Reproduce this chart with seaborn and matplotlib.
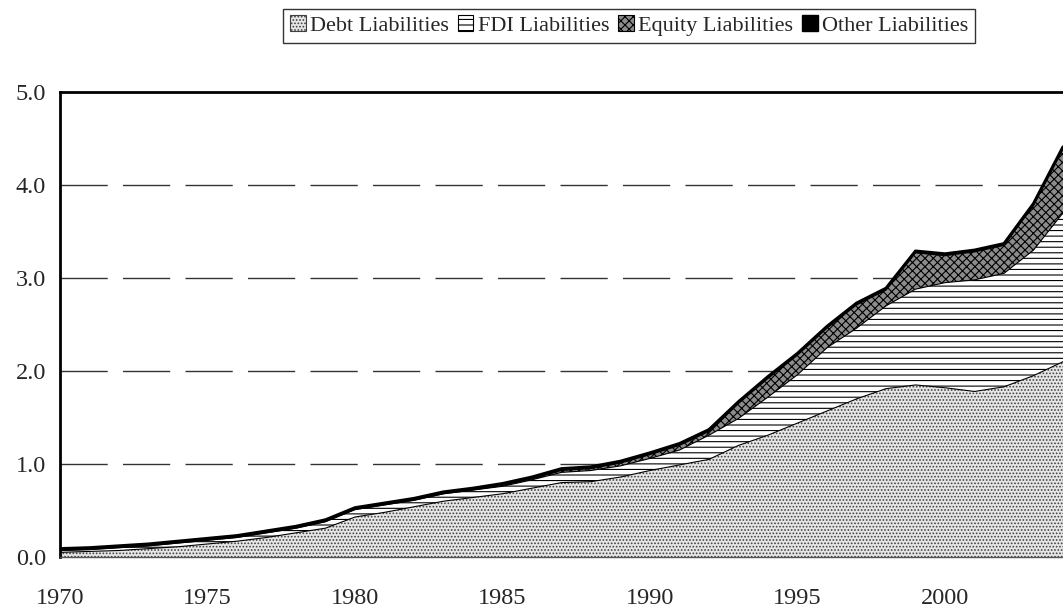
import numpy as np
import pandas as pd
import matplotlib
matplotlib.use("Agg")
import matplotlib.pyplot as plt
import seaborn as sns
from matplotlib.patches import Patch

years = list(range(1970, 2005))
debt = [0.05, 0.06, 0.07, 0.09, 0.11, 0.14, 0.17, 0.21, 0.26, 0.31,
        0.43, 0.48, 0.54, 0.60, 0.64, 0.68, 0.74, 0.80, 0.81, 0.86,
        0.93, 0.99, 1.05, 1.20, 1.31, 1.44, 1.57, 1.70, 1.81, 1.85,
        1.82, 1.78, 1.83, 1.95, 2.10]
fdi = [0.02, 0.02, 0.03, 0.03, 0.04, 0.04, 0.04, 0.05, 0.05, 0.07,
       0.08, 0.08, 0.07, 0.08, 0.08, 0.08, 0.09, 0.11, 0.12, 0.12,
       0.13, 0.16, 0.26, 0.29, 0.41, 0.52, 0.68, 0.76, 0.89, 1.03,
       1.13, 1.20, 1.22, 1.35, 1.60]
equity = [0.00, 0.00, 0.00, 0.00, 0.00, 0.00, 0.00, 0.00, 0.00, 0.00,
          0.00, 0.00, 0.00, 0.00, 0.00, 0.01, 0.01, 0.02, 0.02, 0.03,
          0.04, 0.05, 0.04, 0.16, 0.20, 0.21, 0.21, 0.25, 0.17, 0.39,
          0.29, 0.30, 0.30, 0.48, 0.69]
other = [0.02] * len(years)
labels = ["Debt Liabilities", "FDI Liabilities", "Equity Liabilities", "Other Liabilities"]

df = pd.DataFrame({"year": years, "debt": debt, "fdi": fdi, "equity": equity, "other": other})
df["total"] = df[["debt", "fdi", "equity", "other"]].sum(axis=1)

sns.set_style("white")
plt.rcParams["font.family"] = ["Liberation Serif", "DejaVu Serif"]
plt.rcParams["hatch.linewidth"] = 0.8

fig = plt.figure(figsize=(10.63, 6.11), dpi=100)
ax = fig.add_axes([60 / 1063, 1 - 557 / 611, 1 - 60 / 1063, (557 - 92) / 611])

# dashed grid lines first so areas cover them
for v in [1, 2, 3, 4]:
    ax.axhline(v, color="#333333", lw=1, dashes=(34, 11), zorder=0)

fills = [("#e6e6e6", "#404040", "....."), ("white", "black", "---"),
         ("#8c8c8c", "black", "xxxx"), ("black", "black", "")]
polys = ax.stackplot(df["year"], df["debt"], df["fdi"], df["equity"], df["other"],
                     linewidth=0, zorder=1)
for p, (fc, ec, h) in zip(polys, fills):
    p.set_facecolor(fc)
    p.set_edgecolor(ec)
    p.set_hatch(h)

# boundary lines
cum = df[["debt", "fdi", "equity"]].cumsum(axis=1)
for col in ["debt", "fdi", "equity"]:
    sns.lineplot(x=df["year"], y=cum[col], color="black", lw=0.8, ax=ax, zorder=2)
sns.lineplot(x=df["year"], y=df["total"], color="black", lw=2.2, ax=ax, zorder=3)

ax.set_xlim(1970, 1970 + (1063 - 60) / 29.75)
ax.set_ylim(0, 5)
ax.set_yticks([0, 1, 2, 3, 4, 5])
ax.set_yticklabels([f"{v:.1f}" for v in [0, 1, 2, 3, 4, 5]], fontsize=17.5)
ax.set_xticks(years)
ax.set_xticklabels([str(y) if y % 5 == 0 else "" for y in years], fontsize=17.5)
ax.tick_params(axis="x", direction="out", length=8, width=1, color="#333333", pad=14)
ax.tick_params(axis="y", direction="out", length=6, width=1, color="#333333", pad=4)
ax.set_xlabel("")
ax.set_ylabel("")

for s in ["left", "top"]:
    ax.spines[s].set_linewidth(2)
    ax.spines[s].set_color("black")
ax.spines["bottom"].set_linewidth(1)
ax.spines["bottom"].set_color("#555555")
ax.spines["right"].set_visible(False)

handles = [Patch(facecolor=fc, edgecolor=ec, hatch=h, linewidth=0.8)
           for fc, ec, h in fills]
handles[3] = Patch(facecolor="black", edgecolor="black")
leg = fig.legend(handles, labels, loc="center", bbox_to_anchor=(0.592, 0.958),
                 ncol=4, frameon=True, fancybox=False, fontsize=16,
                 handlelength=0.7, handleheight=0.7, handletextpad=0.2,
                 columnspacing=0.4, borderpad=0.3)
leg.get_frame().set_edgecolor("black")
leg.get_frame().set_linewidth(1)

fig.savefig("out.png", dpi=100)
